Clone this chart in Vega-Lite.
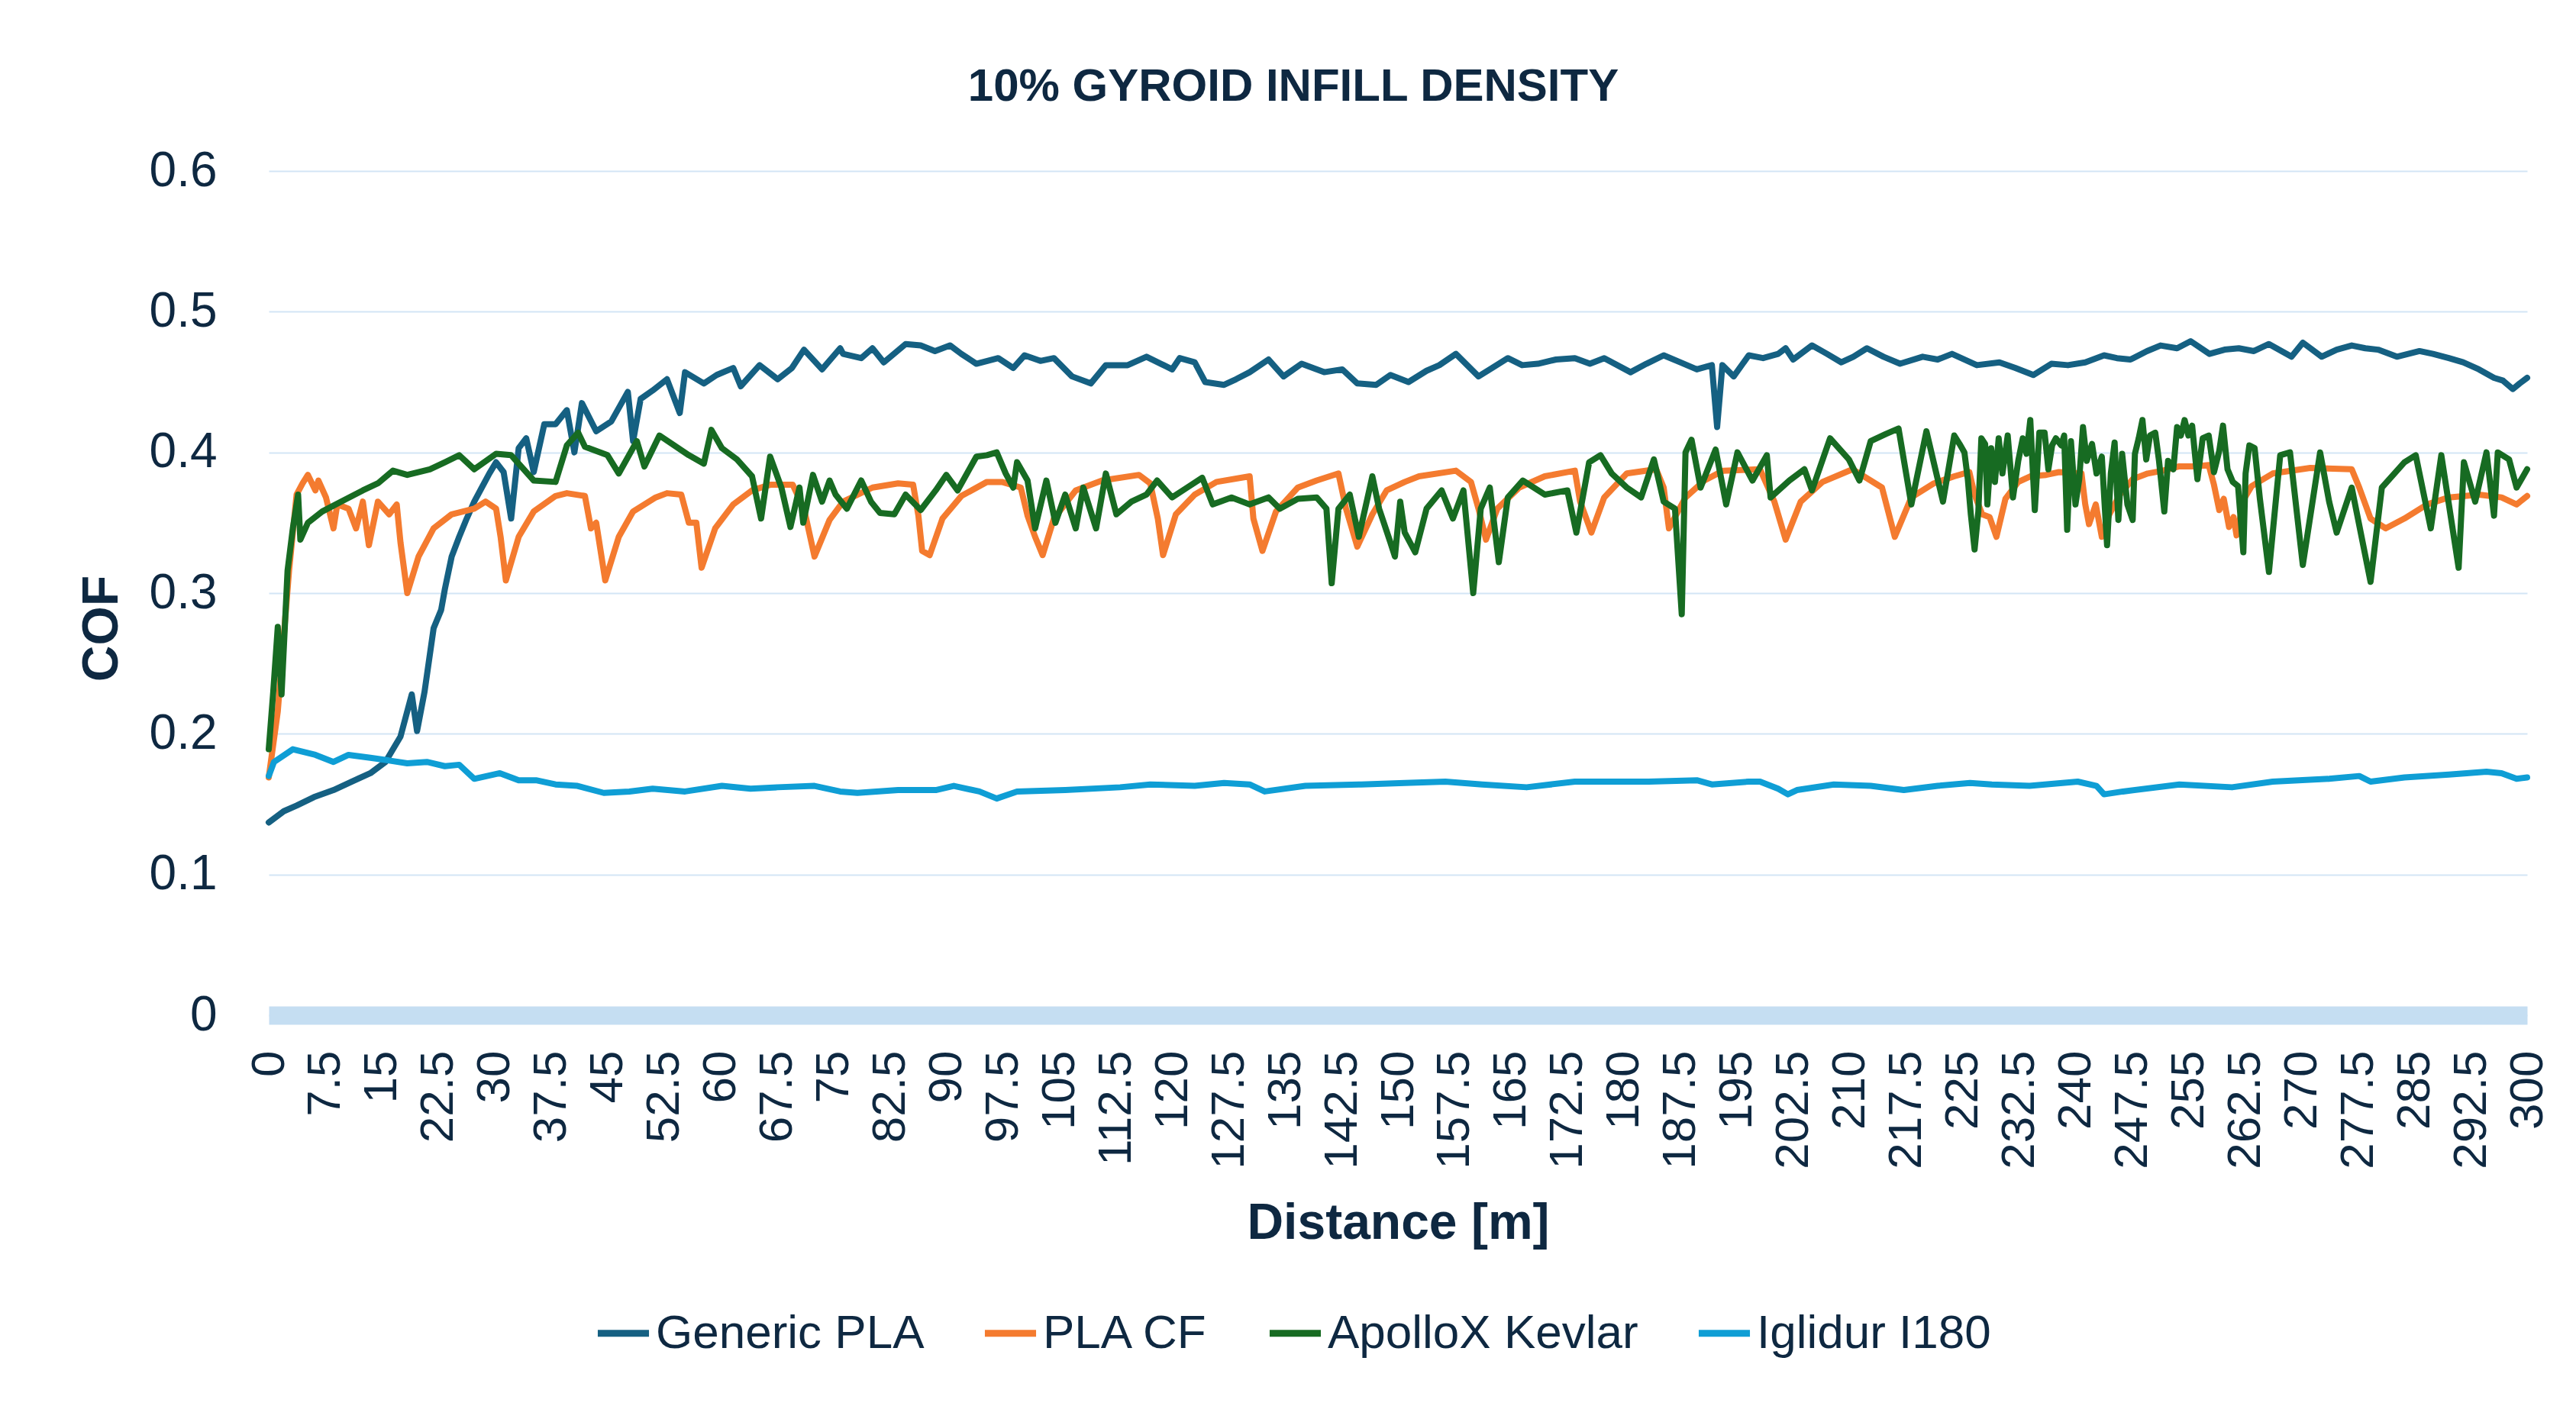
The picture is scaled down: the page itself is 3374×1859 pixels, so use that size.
{
  "$schema": "https://vega.github.io/schema/vega-lite/v6.json",
  "autosize": {"type": "none"},
  "padding": {"left": 352, "top": 224, "right": 64, "bottom": 529},
  "width": 2958,
  "height": 1106,
  "background": "white",
  "title": {
    "text": "10% GYROID INFILL DENSITY",
    "anchor": "middle",
    "frame": "group",
    "dx": -137,
    "offset": 47,
    "font": "Liberation Sans",
    "fontSize": 60,
    "fontWeight": "bold",
    "color": "#0E2841"
  },
  "data": {
    "values": [
      {"s": "Generic PLA", "d": 0, "c": 0.137}, {"s": "Generic PLA", "d": 2, "c": 0.145}, {"s": "Generic PLA", "d": 3.7, "c": 0.149}, {"s": "Generic PLA", "d": 6, "c": 0.155},
      {"s": "Generic PLA", "d": 8.6, "c": 0.16}, {"s": "Generic PLA", "d": 11, "c": 0.166}, {"s": "Generic PLA", "d": 13.5, "c": 0.172}, {"s": "Generic PLA", "d": 15.5, "c": 0.18},
      {"s": "Generic PLA", "d": 17.5, "c": 0.198}, {"s": "Generic PLA", "d": 19, "c": 0.228}, {"s": "Generic PLA", "d": 19.7, "c": 0.202}, {"s": "Generic PLA", "d": 20.7, "c": 0.23},
      {"s": "Generic PLA", "d": 21.9, "c": 0.275}, {"s": "Generic PLA", "d": 22.9, "c": 0.288}, {"s": "Generic PLA", "d": 23.4, "c": 0.303}, {"s": "Generic PLA", "d": 24.3, "c": 0.326},
      {"s": "Generic PLA", "d": 25.3, "c": 0.34}, {"s": "Generic PLA", "d": 26.3, "c": 0.353}, {"s": "Generic PLA", "d": 27.3, "c": 0.365}, {"s": "Generic PLA", "d": 28.3, "c": 0.375},
      {"s": "Generic PLA", "d": 29.3, "c": 0.385}, {"s": "Generic PLA", "d": 30.2, "c": 0.393}, {"s": "Generic PLA", "d": 31.2, "c": 0.386}, {"s": "Generic PLA", "d": 32.2, "c": 0.353},
      {"s": "Generic PLA", "d": 33.2, "c": 0.403}, {"s": "Generic PLA", "d": 34.2, "c": 0.41}, {"s": "Generic PLA", "d": 35.2, "c": 0.386}, {"s": "Generic PLA", "d": 36.6, "c": 0.42},
      {"s": "Generic PLA", "d": 38.1, "c": 0.42}, {"s": "Generic PLA", "d": 39.6, "c": 0.43}, {"s": "Generic PLA", "d": 40.6, "c": 0.4}, {"s": "Generic PLA", "d": 41.6, "c": 0.435},
      {"s": "Generic PLA", "d": 43.5, "c": 0.415}, {"s": "Generic PLA", "d": 45.5, "c": 0.422}, {"s": "Generic PLA", "d": 47.7, "c": 0.443}, {"s": "Generic PLA", "d": 48.4, "c": 0.408},
      {"s": "Generic PLA", "d": 49.4, "c": 0.438}, {"s": "Generic PLA", "d": 51, "c": 0.444}, {"s": "Generic PLA", "d": 52.9, "c": 0.452}, {"s": "Generic PLA", "d": 54.6, "c": 0.428},
      {"s": "Generic PLA", "d": 55.3, "c": 0.457}, {"s": "Generic PLA", "d": 57.8, "c": 0.449}, {"s": "Generic PLA", "d": 59.5, "c": 0.455}, {"s": "Generic PLA", "d": 61.7, "c": 0.46},
      {"s": "Generic PLA", "d": 62.7, "c": 0.447}, {"s": "Generic PLA", "d": 65.2, "c": 0.462}, {"s": "Generic PLA", "d": 67.6, "c": 0.452}, {"s": "Generic PLA", "d": 69.5, "c": 0.46},
      {"s": "Generic PLA", "d": 71.1, "c": 0.473}, {"s": "Generic PLA", "d": 73.5, "c": 0.459}, {"s": "Generic PLA", "d": 75.9, "c": 0.474}, {"s": "Generic PLA", "d": 76.3, "c": 0.47},
      {"s": "Generic PLA", "d": 78.7, "c": 0.467}, {"s": "Generic PLA", "d": 80.2, "c": 0.474}, {"s": "Generic PLA", "d": 81.7, "c": 0.464}, {"s": "Generic PLA", "d": 84.6, "c": 0.477},
      {"s": "Generic PLA", "d": 86.6, "c": 0.476}, {"s": "Generic PLA", "d": 88.5, "c": 0.472}, {"s": "Generic PLA", "d": 90.5, "c": 0.476}, {"s": "Generic PLA", "d": 92, "c": 0.47},
      {"s": "Generic PLA", "d": 94, "c": 0.463}, {"s": "Generic PLA", "d": 96.9, "c": 0.467}, {"s": "Generic PLA", "d": 98.9, "c": 0.46}, {"s": "Generic PLA", "d": 100.4, "c": 0.469},
      {"s": "Generic PLA", "d": 102.5, "c": 0.465}, {"s": "Generic PLA", "d": 104.3, "c": 0.467}, {"s": "Generic PLA", "d": 106.7, "c": 0.454}, {"s": "Generic PLA", "d": 109.2, "c": 0.449},
      {"s": "Generic PLA", "d": 111.2, "c": 0.462}, {"s": "Generic PLA", "d": 114.1, "c": 0.462}, {"s": "Generic PLA", "d": 116.6, "c": 0.468}, {"s": "Generic PLA", "d": 118.5, "c": 0.463},
      {"s": "Generic PLA", "d": 120, "c": 0.459}, {"s": "Generic PLA", "d": 121, "c": 0.467}, {"s": "Generic PLA", "d": 123, "c": 0.464}, {"s": "Generic PLA", "d": 124.4, "c": 0.45},
      {"s": "Generic PLA", "d": 126.9, "c": 0.448}, {"s": "Generic PLA", "d": 128.5, "c": 0.452}, {"s": "Generic PLA", "d": 130.3, "c": 0.457}, {"s": "Generic PLA", "d": 132.8, "c": 0.466},
      {"s": "Generic PLA", "d": 134.8, "c": 0.454}, {"s": "Generic PLA", "d": 137.2, "c": 0.463}, {"s": "Generic PLA", "d": 140.2, "c": 0.457}, {"s": "Generic PLA", "d": 142.6, "c": 0.459},
      {"s": "Generic PLA", "d": 144.6, "c": 0.449}, {"s": "Generic PLA", "d": 147.1, "c": 0.448}, {"s": "Generic PLA", "d": 149, "c": 0.455}, {"s": "Generic PLA", "d": 151.4, "c": 0.45},
      {"s": "Generic PLA", "d": 153.8, "c": 0.458}, {"s": "Generic PLA", "d": 155.5, "c": 0.462}, {"s": "Generic PLA", "d": 157.7, "c": 0.47}, {"s": "Generic PLA", "d": 160.7, "c": 0.454},
      {"s": "Generic PLA", "d": 162.5, "c": 0.46}, {"s": "Generic PLA", "d": 164.6, "c": 0.467}, {"s": "Generic PLA", "d": 166.5, "c": 0.462}, {"s": "Generic PLA", "d": 168.6, "c": 0.463},
      {"s": "Generic PLA", "d": 171, "c": 0.466}, {"s": "Generic PLA", "d": 173.5, "c": 0.467}, {"s": "Generic PLA", "d": 175.5, "c": 0.463}, {"s": "Generic PLA", "d": 177.4, "c": 0.467},
      {"s": "Generic PLA", "d": 180.9, "c": 0.457}, {"s": "Generic PLA", "d": 183, "c": 0.463}, {"s": "Generic PLA", "d": 185.3, "c": 0.469}, {"s": "Generic PLA", "d": 187.5, "c": 0.464},
      {"s": "Generic PLA", "d": 189.7, "c": 0.459}, {"s": "Generic PLA", "d": 191.7, "c": 0.462}, {"s": "Generic PLA", "d": 192.4, "c": 0.418}, {"s": "Generic PLA", "d": 193.1, "c": 0.462},
      {"s": "Generic PLA", "d": 194.6, "c": 0.454}, {"s": "Generic PLA", "d": 196.6, "c": 0.469}, {"s": "Generic PLA", "d": 198.5, "c": 0.467}, {"s": "Generic PLA", "d": 200.5, "c": 0.47},
      {"s": "Generic PLA", "d": 201.5, "c": 0.474}, {"s": "Generic PLA", "d": 202.5, "c": 0.466}, {"s": "Generic PLA", "d": 205, "c": 0.476}, {"s": "Generic PLA", "d": 207, "c": 0.47},
      {"s": "Generic PLA", "d": 208.9, "c": 0.464}, {"s": "Generic PLA", "d": 210.5, "c": 0.468}, {"s": "Generic PLA", "d": 212.3, "c": 0.474}, {"s": "Generic PLA", "d": 214.5, "c": 0.468},
      {"s": "Generic PLA", "d": 216.7, "c": 0.463}, {"s": "Generic PLA", "d": 219.7, "c": 0.468}, {"s": "Generic PLA", "d": 221.7, "c": 0.466}, {"s": "Generic PLA", "d": 223.6, "c": 0.47},
      {"s": "Generic PLA", "d": 226.9, "c": 0.462}, {"s": "Generic PLA", "d": 229.9, "c": 0.464}, {"s": "Generic PLA", "d": 232, "c": 0.46}, {"s": "Generic PLA", "d": 234.4, "c": 0.455},
      {"s": "Generic PLA", "d": 236.8, "c": 0.463}, {"s": "Generic PLA", "d": 239, "c": 0.462}, {"s": "Generic PLA", "d": 241.3, "c": 0.464}, {"s": "Generic PLA", "d": 243.8, "c": 0.469},
      {"s": "Generic PLA", "d": 245.5, "c": 0.467}, {"s": "Generic PLA", "d": 247.3, "c": 0.466}, {"s": "Generic PLA", "d": 249.5, "c": 0.472}, {"s": "Generic PLA", "d": 251.3, "c": 0.476},
      {"s": "Generic PLA", "d": 253.5, "c": 0.474}, {"s": "Generic PLA", "d": 255.3, "c": 0.479}, {"s": "Generic PLA", "d": 257.8, "c": 0.47}, {"s": "Generic PLA", "d": 259.8, "c": 0.473},
      {"s": "Generic PLA", "d": 261.7, "c": 0.474}, {"s": "Generic PLA", "d": 263.7, "c": 0.472}, {"s": "Generic PLA", "d": 265.7, "c": 0.477}, {"s": "Generic PLA", "d": 268.7, "c": 0.468},
      {"s": "Generic PLA", "d": 270.2, "c": 0.478}, {"s": "Generic PLA", "d": 272.7, "c": 0.468}, {"s": "Generic PLA", "d": 274.7, "c": 0.473}, {"s": "Generic PLA", "d": 276.7, "c": 0.476},
      {"s": "Generic PLA", "d": 278.5, "c": 0.474}, {"s": "Generic PLA", "d": 280.2, "c": 0.473}, {"s": "Generic PLA", "d": 282.7, "c": 0.468}, {"s": "Generic PLA", "d": 285.7, "c": 0.472},
      {"s": "Generic PLA", "d": 287.5, "c": 0.47}, {"s": "Generic PLA", "d": 289.6, "c": 0.467}, {"s": "Generic PLA", "d": 291.5, "c": 0.464}, {"s": "Generic PLA", "d": 293.6, "c": 0.459},
      {"s": "Generic PLA", "d": 295.6, "c": 0.453}, {"s": "Generic PLA", "d": 296.8, "c": 0.451}, {"s": "Generic PLA", "d": 298.1, "c": 0.445}, {"s": "Generic PLA", "d": 299, "c": 0.449},
      {"s": "Generic PLA", "d": 300, "c": 0.453},

      {"s": "PLA CF", "d": 0, "c": 0.169}, {"s": "PLA CF", "d": 1.2, "c": 0.216}, {"s": "PLA CF", "d": 2.7, "c": 0.316}, {"s": "PLA CF", "d": 3.7, "c": 0.37},
      {"s": "PLA CF", "d": 4.5, "c": 0.378}, {"s": "PLA CF", "d": 5.2, "c": 0.384}, {"s": "PLA CF", "d": 6.2, "c": 0.373}, {"s": "PLA CF", "d": 6.6, "c": 0.38},
      {"s": "PLA CF", "d": 7.6, "c": 0.368}, {"s": "PLA CF", "d": 8.6, "c": 0.346}, {"s": "PLA CF", "d": 9.1, "c": 0.363}, {"s": "PLA CF", "d": 10.6, "c": 0.36},
      {"s": "PLA CF", "d": 11.6, "c": 0.346}, {"s": "PLA CF", "d": 12.5, "c": 0.365}, {"s": "PLA CF", "d": 13.3, "c": 0.334}, {"s": "PLA CF", "d": 14.5, "c": 0.365},
      {"s": "PLA CF", "d": 16, "c": 0.356}, {"s": "PLA CF", "d": 17, "c": 0.363}, {"s": "PLA CF", "d": 17.5, "c": 0.336}, {"s": "PLA CF", "d": 18.4, "c": 0.3},
      {"s": "PLA CF", "d": 19.9, "c": 0.326}, {"s": "PLA CF", "d": 21.9, "c": 0.346}, {"s": "PLA CF", "d": 24.3, "c": 0.356}, {"s": "PLA CF", "d": 27.3, "c": 0.36},
      {"s": "PLA CF", "d": 28.8, "c": 0.365}, {"s": "PLA CF", "d": 30.2, "c": 0.36}, {"s": "PLA CF", "d": 30.8, "c": 0.34}, {"s": "PLA CF", "d": 31.5, "c": 0.309},
      {"s": "PLA CF", "d": 33.2, "c": 0.34}, {"s": "PLA CF", "d": 35.2, "c": 0.358}, {"s": "PLA CF", "d": 38.1, "c": 0.369}, {"s": "PLA CF", "d": 39.6, "c": 0.371},
      {"s": "PLA CF", "d": 42, "c": 0.369}, {"s": "PLA CF", "d": 42.8, "c": 0.346}, {"s": "PLA CF", "d": 43.5, "c": 0.35}, {"s": "PLA CF", "d": 44.7, "c": 0.309},
      {"s": "PLA CF", "d": 46.5, "c": 0.34}, {"s": "PLA CF", "d": 48.4, "c": 0.358}, {"s": "PLA CF", "d": 51.4, "c": 0.368}, {"s": "PLA CF", "d": 52.9, "c": 0.371},
      {"s": "PLA CF", "d": 54.8, "c": 0.37}, {"s": "PLA CF", "d": 55.8, "c": 0.35}, {"s": "PLA CF", "d": 56.8, "c": 0.35}, {"s": "PLA CF", "d": 57.5, "c": 0.318},
      {"s": "PLA CF", "d": 59.3, "c": 0.346}, {"s": "PLA CF", "d": 61.7, "c": 0.363}, {"s": "PLA CF", "d": 64.2, "c": 0.373}, {"s": "PLA CF", "d": 66.6, "c": 0.377},
      {"s": "PLA CF", "d": 69.6, "c": 0.377}, {"s": "PLA CF", "d": 71.1, "c": 0.36}, {"s": "PLA CF", "d": 72.5, "c": 0.326}, {"s": "PLA CF", "d": 74.5, "c": 0.352},
      {"s": "PLA CF", "d": 76.3, "c": 0.365}, {"s": "PLA CF", "d": 80.2, "c": 0.375}, {"s": "PLA CF", "d": 83.6, "c": 0.378}, {"s": "PLA CF", "d": 85.6, "c": 0.377},
      {"s": "PLA CF", "d": 86.3, "c": 0.355}, {"s": "PLA CF", "d": 86.8, "c": 0.33}, {"s": "PLA CF", "d": 87.8, "c": 0.327}, {"s": "PLA CF", "d": 89.5, "c": 0.353},
      {"s": "PLA CF", "d": 92, "c": 0.369}, {"s": "PLA CF", "d": 95.4, "c": 0.379}, {"s": "PLA CF", "d": 97.4, "c": 0.379}, {"s": "PLA CF", "d": 99.9, "c": 0.375},
      {"s": "PLA CF", "d": 100.8, "c": 0.355}, {"s": "PLA CF", "d": 101.8, "c": 0.34}, {"s": "PLA CF", "d": 102.8, "c": 0.327}, {"s": "PLA CF", "d": 104.3, "c": 0.353},
      {"s": "PLA CF", "d": 107.2, "c": 0.373}, {"s": "PLA CF", "d": 110.7, "c": 0.38}, {"s": "PLA CF", "d": 115.6, "c": 0.384}, {"s": "PLA CF", "d": 117.1, "c": 0.378},
      {"s": "PLA CF", "d": 118.1, "c": 0.353}, {"s": "PLA CF", "d": 118.8, "c": 0.327}, {"s": "PLA CF", "d": 120.5, "c": 0.356}, {"s": "PLA CF", "d": 123, "c": 0.37},
      {"s": "PLA CF", "d": 125.9, "c": 0.379}, {"s": "PLA CF", "d": 130.3, "c": 0.383}, {"s": "PLA CF", "d": 130.8, "c": 0.353}, {"s": "PLA CF", "d": 132, "c": 0.33},
      {"s": "PLA CF", "d": 133.8, "c": 0.358}, {"s": "PLA CF", "d": 136.7, "c": 0.375}, {"s": "PLA CF", "d": 139.2, "c": 0.38}, {"s": "PLA CF", "d": 142.1, "c": 0.385},
      {"s": "PLA CF", "d": 143.1, "c": 0.36}, {"s": "PLA CF", "d": 144.6, "c": 0.333}, {"s": "PLA CF", "d": 146.6, "c": 0.356}, {"s": "PLA CF", "d": 148.5, "c": 0.373},
      {"s": "PLA CF", "d": 150.9, "c": 0.379}, {"s": "PLA CF", "d": 152.8, "c": 0.383}, {"s": "PLA CF", "d": 157.7, "c": 0.387}, {"s": "PLA CF", "d": 159.7, "c": 0.379},
      {"s": "PLA CF", "d": 160.7, "c": 0.36}, {"s": "PLA CF", "d": 161.7, "c": 0.338}, {"s": "PLA CF", "d": 163.2, "c": 0.36}, {"s": "PLA CF", "d": 166.1, "c": 0.375},
      {"s": "PLA CF", "d": 169.5, "c": 0.383}, {"s": "PLA CF", "d": 173.5, "c": 0.387}, {"s": "PLA CF", "d": 174.2, "c": 0.365}, {"s": "PLA CF", "d": 175.7, "c": 0.343},
      {"s": "PLA CF", "d": 177.4, "c": 0.368}, {"s": "PLA CF", "d": 180.4, "c": 0.385}, {"s": "PLA CF", "d": 184.3, "c": 0.388}, {"s": "PLA CF", "d": 185.3, "c": 0.375},
      {"s": "PLA CF", "d": 186, "c": 0.346}, {"s": "PLA CF", "d": 188.2, "c": 0.368}, {"s": "PLA CF", "d": 190.7, "c": 0.38}, {"s": "PLA CF", "d": 193.2, "c": 0.387},
      {"s": "PLA CF", "d": 198.1, "c": 0.388}, {"s": "PLA CF", "d": 200, "c": 0.365}, {"s": "PLA CF", "d": 201.5, "c": 0.338}, {"s": "PLA CF", "d": 203.5, "c": 0.365},
      {"s": "PLA CF", "d": 206.4, "c": 0.379}, {"s": "PLA CF", "d": 210.4, "c": 0.388}, {"s": "PLA CF", "d": 214.3, "c": 0.375}, {"s": "PLA CF", "d": 216, "c": 0.34},
      {"s": "PLA CF", "d": 218.2, "c": 0.368}, {"s": "PLA CF", "d": 221.2, "c": 0.378}, {"s": "PLA CF", "d": 223.9, "c": 0.383}, {"s": "PLA CF", "d": 225.9, "c": 0.386},
      {"s": "PLA CF", "d": 226.6, "c": 0.37}, {"s": "PLA CF", "d": 227.6, "c": 0.356}, {"s": "PLA CF", "d": 228.6, "c": 0.354}, {"s": "PLA CF", "d": 229.5, "c": 0.34},
      {"s": "PLA CF", "d": 230.7, "c": 0.367}, {"s": "PLA CF", "d": 232.4, "c": 0.379}, {"s": "PLA CF", "d": 234, "c": 0.383}, {"s": "PLA CF", "d": 236.1, "c": 0.384},
      {"s": "PLA CF", "d": 237.8, "c": 0.386}, {"s": "PLA CF", "d": 240.8, "c": 0.385}, {"s": "PLA CF", "d": 241.3, "c": 0.363}, {"s": "PLA CF", "d": 241.8, "c": 0.349},
      {"s": "PLA CF", "d": 242.7, "c": 0.363}, {"s": "PLA CF", "d": 243.5, "c": 0.34}, {"s": "PLA CF", "d": 244.5, "c": 0.356}, {"s": "PLA CF", "d": 245.9, "c": 0.37},
      {"s": "PLA CF", "d": 247.6, "c": 0.381}, {"s": "PLA CF", "d": 249.6, "c": 0.385}, {"s": "PLA CF", "d": 251.6, "c": 0.387}, {"s": "PLA CF", "d": 253.7, "c": 0.39},
      {"s": "PLA CF", "d": 256, "c": 0.39}, {"s": "PLA CF", "d": 257.7, "c": 0.391}, {"s": "PLA CF", "d": 258.4, "c": 0.377}, {"s": "PLA CF", "d": 259.1, "c": 0.359},
      {"s": "PLA CF", "d": 259.7, "c": 0.367}, {"s": "PLA CF", "d": 260.4, "c": 0.347}, {"s": "PLA CF", "d": 261, "c": 0.354}, {"s": "PLA CF", "d": 261.4, "c": 0.341},
      {"s": "PLA CF", "d": 262.4, "c": 0.367}, {"s": "PLA CF", "d": 263.4, "c": 0.376}, {"s": "PLA CF", "d": 266.2, "c": 0.385},
      {"s": "PLA CF", "d": 271.2, "c": 0.389}, {"s": "PLA CF", "d": 276.7, "c": 0.388}, {"s": "PLA CF", "d": 277.7, "c": 0.375}, {"s": "PLA CF", "d": 279.2, "c": 0.353},
      {"s": "PLA CF", "d": 281.2, "c": 0.346}, {"s": "PLA CF", "d": 283.7, "c": 0.353}, {"s": "PLA CF", "d": 286.7, "c": 0.363}, {"s": "PLA CF", "d": 289.6, "c": 0.368},
      {"s": "PLA CF", "d": 293.6, "c": 0.37}, {"s": "PLA CF", "d": 296.6, "c": 0.368}, {"s": "PLA CF", "d": 298.6, "c": 0.363}, {"s": "PLA CF", "d": 300, "c": 0.369},

      {"s": "ApolloX Kevlar", "d": 0, "c": 0.189}, {"s": "ApolloX Kevlar", "d": 0.6, "c": 0.23}, {"s": "ApolloX Kevlar", "d": 1.2, "c": 0.276}, {"s": "ApolloX Kevlar", "d": 1.7, "c": 0.228},
      {"s": "ApolloX Kevlar", "d": 2.5, "c": 0.316}, {"s": "ApolloX Kevlar", "d": 3.2, "c": 0.346}, {"s": "ApolloX Kevlar", "d": 3.9, "c": 0.37}, {"s": "ApolloX Kevlar", "d": 4.2, "c": 0.338},
      {"s": "ApolloX Kevlar", "d": 5.2, "c": 0.35}, {"s": "ApolloX Kevlar", "d": 7.1, "c": 0.358}, {"s": "ApolloX Kevlar", "d": 9.6, "c": 0.365}, {"s": "ApolloX Kevlar", "d": 12.5, "c": 0.373},
      {"s": "ApolloX Kevlar", "d": 14.5, "c": 0.378}, {"s": "ApolloX Kevlar", "d": 16.5, "c": 0.387}, {"s": "ApolloX Kevlar", "d": 18.4, "c": 0.384}, {"s": "ApolloX Kevlar", "d": 21.4, "c": 0.388},
      {"s": "ApolloX Kevlar", "d": 23.4, "c": 0.393}, {"s": "ApolloX Kevlar", "d": 25.3, "c": 0.398}, {"s": "ApolloX Kevlar", "d": 27.3, "c": 0.388}, {"s": "ApolloX Kevlar", "d": 30.2, "c": 0.399},
      {"s": "ApolloX Kevlar", "d": 32.2, "c": 0.398}, {"s": "ApolloX Kevlar", "d": 35.2, "c": 0.38}, {"s": "ApolloX Kevlar", "d": 38.1, "c": 0.379}, {"s": "ApolloX Kevlar", "d": 39.6, "c": 0.405},
      {"s": "ApolloX Kevlar", "d": 41.1, "c": 0.414}, {"s": "ApolloX Kevlar", "d": 42, "c": 0.404}, {"s": "ApolloX Kevlar", "d": 45, "c": 0.398}, {"s": "ApolloX Kevlar", "d": 46.5, "c": 0.385},
      {"s": "ApolloX Kevlar", "d": 48.9, "c": 0.408}, {"s": "ApolloX Kevlar", "d": 49.9, "c": 0.39}, {"s": "ApolloX Kevlar", "d": 51.9, "c": 0.412}, {"s": "ApolloX Kevlar", "d": 55.8, "c": 0.398},
      {"s": "ApolloX Kevlar", "d": 57.8, "c": 0.392}, {"s": "ApolloX Kevlar", "d": 58.8, "c": 0.416}, {"s": "ApolloX Kevlar", "d": 60.2, "c": 0.403}, {"s": "ApolloX Kevlar", "d": 62.2, "c": 0.395},
      {"s": "ApolloX Kevlar", "d": 64.2, "c": 0.383}, {"s": "ApolloX Kevlar", "d": 65.4, "c": 0.353}, {"s": "ApolloX Kevlar", "d": 66.6, "c": 0.397}, {"s": "ApolloX Kevlar", "d": 68.1, "c": 0.375},
      {"s": "ApolloX Kevlar", "d": 69.3, "c": 0.347}, {"s": "ApolloX Kevlar", "d": 70.5, "c": 0.375}, {"s": "ApolloX Kevlar", "d": 71, "c": 0.35}, {"s": "ApolloX Kevlar", "d": 72.3, "c": 0.384},
      {"s": "ApolloX Kevlar", "d": 73.5, "c": 0.365}, {"s": "ApolloX Kevlar", "d": 74.5, "c": 0.38}, {"s": "ApolloX Kevlar", "d": 75.3, "c": 0.37}, {"s": "ApolloX Kevlar", "d": 76.8, "c": 0.36},
      {"s": "ApolloX Kevlar", "d": 78.7, "c": 0.38}, {"s": "ApolloX Kevlar", "d": 80, "c": 0.365}, {"s": "ApolloX Kevlar", "d": 81.2, "c": 0.357}, {"s": "ApolloX Kevlar", "d": 83.1, "c": 0.356},
      {"s": "ApolloX Kevlar", "d": 84.6, "c": 0.37}, {"s": "ApolloX Kevlar", "d": 86.6, "c": 0.359}, {"s": "ApolloX Kevlar", "d": 88.6, "c": 0.373}, {"s": "ApolloX Kevlar", "d": 90, "c": 0.384},
      {"s": "ApolloX Kevlar", "d": 91.5, "c": 0.373}, {"s": "ApolloX Kevlar", "d": 94, "c": 0.397}, {"s": "ApolloX Kevlar", "d": 95.4, "c": 0.398}, {"s": "ApolloX Kevlar", "d": 96.7, "c": 0.4},
      {"s": "ApolloX Kevlar", "d": 97.9, "c": 0.385}, {"s": "ApolloX Kevlar", "d": 98.9, "c": 0.375}, {"s": "ApolloX Kevlar", "d": 99.4, "c": 0.393}, {"s": "ApolloX Kevlar", "d": 100.8, "c": 0.38},
      {"s": "ApolloX Kevlar", "d": 101.8, "c": 0.346}, {"s": "ApolloX Kevlar", "d": 103.3, "c": 0.38}, {"s": "ApolloX Kevlar", "d": 104.5, "c": 0.35}, {"s": "ApolloX Kevlar", "d": 105.8, "c": 0.37},
      {"s": "ApolloX Kevlar", "d": 107.2, "c": 0.346}, {"s": "ApolloX Kevlar", "d": 108.2, "c": 0.375}, {"s": "ApolloX Kevlar", "d": 109.9, "c": 0.346}, {"s": "ApolloX Kevlar", "d": 111.2, "c": 0.385},
      {"s": "ApolloX Kevlar", "d": 112.6, "c": 0.356}, {"s": "ApolloX Kevlar", "d": 114.6, "c": 0.365}, {"s": "ApolloX Kevlar", "d": 116.6, "c": 0.37}, {"s": "ApolloX Kevlar", "d": 118, "c": 0.38},
      {"s": "ApolloX Kevlar", "d": 120, "c": 0.368}, {"s": "ApolloX Kevlar", "d": 122, "c": 0.375}, {"s": "ApolloX Kevlar", "d": 124, "c": 0.382}, {"s": "ApolloX Kevlar", "d": 125.4, "c": 0.363},
      {"s": "ApolloX Kevlar", "d": 127.9, "c": 0.368}, {"s": "ApolloX Kevlar", "d": 130.3, "c": 0.363}, {"s": "ApolloX Kevlar", "d": 132.8, "c": 0.368}, {"s": "ApolloX Kevlar", "d": 134.3, "c": 0.36},
      {"s": "ApolloX Kevlar", "d": 136.7, "c": 0.367}, {"s": "ApolloX Kevlar", "d": 139.2, "c": 0.368}, {"s": "ApolloX Kevlar", "d": 140.5, "c": 0.36}, {"s": "ApolloX Kevlar", "d": 141.2, "c": 0.307},
      {"s": "ApolloX Kevlar", "d": 142.1, "c": 0.36}, {"s": "ApolloX Kevlar", "d": 143.6, "c": 0.37}, {"s": "ApolloX Kevlar", "d": 144.8, "c": 0.34}, {"s": "ApolloX Kevlar", "d": 146.6, "c": 0.383},
      {"s": "ApolloX Kevlar", "d": 147.5, "c": 0.36}, {"s": "ApolloX Kevlar", "d": 149, "c": 0.336}, {"s": "ApolloX Kevlar", "d": 149.6, "c": 0.326}, {"s": "ApolloX Kevlar", "d": 150.3, "c": 0.365},
      {"s": "ApolloX Kevlar", "d": 150.9, "c": 0.343}, {"s": "ApolloX Kevlar", "d": 152.3, "c": 0.329}, {"s": "ApolloX Kevlar", "d": 153.8, "c": 0.36}, {"s": "ApolloX Kevlar", "d": 155.8, "c": 0.373},
      {"s": "ApolloX Kevlar", "d": 157.3, "c": 0.353}, {"s": "ApolloX Kevlar", "d": 158.7, "c": 0.373}, {"s": "ApolloX Kevlar", "d": 160, "c": 0.3}, {"s": "ApolloX Kevlar", "d": 161, "c": 0.36},
      {"s": "ApolloX Kevlar", "d": 162.2, "c": 0.375}, {"s": "ApolloX Kevlar", "d": 163.4, "c": 0.322}, {"s": "ApolloX Kevlar", "d": 164.6, "c": 0.368}, {"s": "ApolloX Kevlar", "d": 166.6, "c": 0.38},
      {"s": "ApolloX Kevlar", "d": 169.5, "c": 0.37}, {"s": "ApolloX Kevlar", "d": 172.5, "c": 0.373}, {"s": "ApolloX Kevlar", "d": 173.7, "c": 0.343}, {"s": "ApolloX Kevlar", "d": 175.4, "c": 0.393},
      {"s": "ApolloX Kevlar", "d": 176.9, "c": 0.398}, {"s": "ApolloX Kevlar", "d": 178.4, "c": 0.385}, {"s": "ApolloX Kevlar", "d": 180.4, "c": 0.375}, {"s": "ApolloX Kevlar", "d": 182.3, "c": 0.368},
      {"s": "ApolloX Kevlar", "d": 184, "c": 0.395}, {"s": "ApolloX Kevlar", "d": 185.3, "c": 0.365}, {"s": "ApolloX Kevlar", "d": 186.8, "c": 0.36}, {"s": "ApolloX Kevlar", "d": 187.7, "c": 0.285},
      {"s": "ApolloX Kevlar", "d": 188.2, "c": 0.4}, {"s": "ApolloX Kevlar", "d": 189, "c": 0.409}, {"s": "ApolloX Kevlar", "d": 190.2, "c": 0.375}, {"s": "ApolloX Kevlar", "d": 192.2, "c": 0.402},
      {"s": "ApolloX Kevlar", "d": 193.6, "c": 0.363}, {"s": "ApolloX Kevlar", "d": 195.1, "c": 0.4}, {"s": "ApolloX Kevlar", "d": 197.1, "c": 0.38}, {"s": "ApolloX Kevlar", "d": 199, "c": 0.398},
      {"s": "ApolloX Kevlar", "d": 199.5, "c": 0.368}, {"s": "ApolloX Kevlar", "d": 202, "c": 0.38}, {"s": "ApolloX Kevlar", "d": 204, "c": 0.388}, {"s": "ApolloX Kevlar", "d": 205, "c": 0.373},
      {"s": "ApolloX Kevlar", "d": 207.4, "c": 0.41}, {"s": "ApolloX Kevlar", "d": 209.9, "c": 0.395}, {"s": "ApolloX Kevlar", "d": 211.3, "c": 0.38}, {"s": "ApolloX Kevlar", "d": 212.8, "c": 0.408},
      {"s": "ApolloX Kevlar", "d": 214.8, "c": 0.413}, {"s": "ApolloX Kevlar", "d": 216.5, "c": 0.417}, {"s": "ApolloX Kevlar", "d": 218.2, "c": 0.363}, {"s": "ApolloX Kevlar", "d": 220.2, "c": 0.415},
      {"s": "ApolloX Kevlar", "d": 222.4, "c": 0.365}, {"s": "ApolloX Kevlar", "d": 223.9, "c": 0.412}, {"s": "ApolloX Kevlar", "d": 224.6, "c": 0.406}, {"s": "ApolloX Kevlar", "d": 225.25, "c": 0.4},
      {"s": "ApolloX Kevlar", "d": 225.7, "c": 0.381}, {"s": "ApolloX Kevlar", "d": 226.1, "c": 0.356}, {"s": "ApolloX Kevlar", "d": 226.6, "c": 0.331}, {"s": "ApolloX Kevlar", "d": 227.1, "c": 0.358},
      {"s": "ApolloX Kevlar", "d": 227.5, "c": 0.41}, {"s": "ApolloX Kevlar", "d": 228, "c": 0.406}, {"s": "ApolloX Kevlar", "d": 228.3, "c": 0.363}, {"s": "ApolloX Kevlar", "d": 228.8, "c": 0.403},
      {"s": "ApolloX Kevlar", "d": 229.3, "c": 0.379}, {"s": "ApolloX Kevlar", "d": 229.8, "c": 0.41}, {"s": "ApolloX Kevlar", "d": 230.3, "c": 0.385}, {"s": "ApolloX Kevlar", "d": 231, "c": 0.412},
      {"s": "ApolloX Kevlar", "d": 231.7, "c": 0.368}, {"s": "ApolloX Kevlar", "d": 232.4, "c": 0.394}, {"s": "ApolloX Kevlar", "d": 233, "c": 0.41}, {"s": "ApolloX Kevlar", "d": 233.5, "c": 0.399},
      {"s": "ApolloX Kevlar", "d": 234, "c": 0.423}, {"s": "ApolloX Kevlar", "d": 234.6, "c": 0.359}, {"s": "ApolloX Kevlar", "d": 235.2, "c": 0.414}, {"s": "ApolloX Kevlar", "d": 235.9, "c": 0.414},
      {"s": "ApolloX Kevlar", "d": 236.4, "c": 0.388}, {"s": "ApolloX Kevlar", "d": 236.9, "c": 0.405}, {"s": "ApolloX Kevlar", "d": 237.4, "c": 0.41}, {"s": "ApolloX Kevlar", "d": 238.1, "c": 0.405},
      {"s": "ApolloX Kevlar", "d": 238.5, "c": 0.412}, {"s": "ApolloX Kevlar", "d": 238.9, "c": 0.345}, {"s": "ApolloX Kevlar", "d": 239.4, "c": 0.408}, {"s": "ApolloX Kevlar", "d": 240, "c": 0.363},
      {"s": "ApolloX Kevlar", "d": 240.5, "c": 0.381}, {"s": "ApolloX Kevlar", "d": 241, "c": 0.418}, {"s": "ApolloX Kevlar", "d": 241.5, "c": 0.394}, {"s": "ApolloX Kevlar", "d": 242.2, "c": 0.406},
      {"s": "ApolloX Kevlar", "d": 242.8, "c": 0.385}, {"s": "ApolloX Kevlar", "d": 243.5, "c": 0.397}, {"s": "ApolloX Kevlar", "d": 244.2, "c": 0.334}, {"s": "ApolloX Kevlar", "d": 244.7, "c": 0.385},
      {"s": "ApolloX Kevlar", "d": 245.2, "c": 0.407}, {"s": "ApolloX Kevlar", "d": 245.7, "c": 0.352}, {"s": "ApolloX Kevlar", "d": 246.2, "c": 0.399}, {"s": "ApolloX Kevlar", "d": 246.9, "c": 0.363},
      {"s": "ApolloX Kevlar", "d": 247.6, "c": 0.352}, {"s": "ApolloX Kevlar", "d": 247.9, "c": 0.399}, {"s": "ApolloX Kevlar", "d": 248.4, "c": 0.41}, {"s": "ApolloX Kevlar", "d": 248.9, "c": 0.423},
      {"s": "ApolloX Kevlar", "d": 249.4, "c": 0.395}, {"s": "ApolloX Kevlar", "d": 249.9, "c": 0.412}, {"s": "ApolloX Kevlar", "d": 250.6, "c": 0.414}, {"s": "ApolloX Kevlar", "d": 251.1, "c": 0.394},
      {"s": "ApolloX Kevlar", "d": 251.8, "c": 0.358}, {"s": "ApolloX Kevlar", "d": 252.3, "c": 0.394}, {"s": "ApolloX Kevlar", "d": 253, "c": 0.388}, {"s": "ApolloX Kevlar", "d": 253.5, "c": 0.418},
      {"s": "ApolloX Kevlar", "d": 254, "c": 0.412}, {"s": "ApolloX Kevlar", "d": 254.5, "c": 0.423}, {"s": "ApolloX Kevlar", "d": 255, "c": 0.412}, {"s": "ApolloX Kevlar", "d": 255.5, "c": 0.419},
      {"s": "ApolloX Kevlar", "d": 256.2, "c": 0.381}, {"s": "ApolloX Kevlar", "d": 256.9, "c": 0.41}, {"s": "ApolloX Kevlar", "d": 257.7, "c": 0.412}, {"s": "ApolloX Kevlar", "d": 258.4, "c": 0.386},
      {"s": "ApolloX Kevlar", "d": 259.1, "c": 0.401}, {"s": "ApolloX Kevlar", "d": 259.6, "c": 0.419}, {"s": "ApolloX Kevlar", "d": 260.2, "c": 0.388}, {"s": "ApolloX Kevlar", "d": 260.9, "c": 0.379},
      {"s": "ApolloX Kevlar", "d": 261.6, "c": 0.376}, {"s": "ApolloX Kevlar", "d": 262.3, "c": 0.329}, {"s": "ApolloX Kevlar", "d": 262.6, "c": 0.385}, {"s": "ApolloX Kevlar", "d": 263.1, "c": 0.405},
      {"s": "ApolloX Kevlar", "d": 263.8, "c": 0.403}, {"s": "ApolloX Kevlar", "d": 264.5, "c": 0.367}, {"s": "ApolloX Kevlar", "d": 265.7, "c": 0.315},
      {"s": "ApolloX Kevlar", "d": 267.2, "c": 0.398}, {"s": "ApolloX Kevlar", "d": 268.5, "c": 0.4}, {"s": "ApolloX Kevlar", "d": 270.2, "c": 0.32}, {"s": "ApolloX Kevlar", "d": 272.5, "c": 0.4},
      {"s": "ApolloX Kevlar", "d": 273.7, "c": 0.365}, {"s": "ApolloX Kevlar", "d": 274.7, "c": 0.343}, {"s": "ApolloX Kevlar", "d": 276.7, "c": 0.375}, {"s": "ApolloX Kevlar", "d": 279.2, "c": 0.308},
      {"s": "ApolloX Kevlar", "d": 280.7, "c": 0.375}, {"s": "ApolloX Kevlar", "d": 283.7, "c": 0.393}, {"s": "ApolloX Kevlar", "d": 285.2, "c": 0.398}, {"s": "ApolloX Kevlar", "d": 287.2, "c": 0.346},
      {"s": "ApolloX Kevlar", "d": 288.6, "c": 0.398}, {"s": "ApolloX Kevlar", "d": 290.9, "c": 0.318}, {"s": "ApolloX Kevlar", "d": 291.6, "c": 0.393}, {"s": "ApolloX Kevlar", "d": 293.1, "c": 0.365},
      {"s": "ApolloX Kevlar", "d": 294.6, "c": 0.4}, {"s": "ApolloX Kevlar", "d": 295.6, "c": 0.355}, {"s": "ApolloX Kevlar", "d": 296.1, "c": 0.4}, {"s": "ApolloX Kevlar", "d": 297.6, "c": 0.395},
      {"s": "ApolloX Kevlar", "d": 298.6, "c": 0.375}, {"s": "ApolloX Kevlar", "d": 300, "c": 0.388},

      {"s": "Iglidur I180", "d": 0, "c": 0.17}, {"s": "Iglidur I180", "d": 0.7, "c": 0.18}, {"s": "Iglidur I180", "d": 3.2, "c": 0.189}, {"s": "Iglidur I180", "d": 6.2, "c": 0.185},
      {"s": "Iglidur I180", "d": 8.6, "c": 0.18}, {"s": "Iglidur I180", "d": 10.6, "c": 0.185}, {"s": "Iglidur I180", "d": 13.5, "c": 0.183}, {"s": "Iglidur I180", "d": 16, "c": 0.181},
      {"s": "Iglidur I180", "d": 18.4, "c": 0.179}, {"s": "Iglidur I180", "d": 21, "c": 0.18}, {"s": "Iglidur I180", "d": 23.4, "c": 0.177}, {"s": "Iglidur I180", "d": 25.3, "c": 0.178},
      {"s": "Iglidur I180", "d": 27.3, "c": 0.168}, {"s": "Iglidur I180", "d": 30.7, "c": 0.172}, {"s": "Iglidur I180", "d": 33.2, "c": 0.167}, {"s": "Iglidur I180", "d": 35.5, "c": 0.167},
      {"s": "Iglidur I180", "d": 38.1, "c": 0.164}, {"s": "Iglidur I180", "d": 41, "c": 0.163}, {"s": "Iglidur I180", "d": 44.5, "c": 0.158}, {"s": "Iglidur I180", "d": 47.9, "c": 0.159},
      {"s": "Iglidur I180", "d": 51, "c": 0.161}, {"s": "Iglidur I180", "d": 55.3, "c": 0.159}, {"s": "Iglidur I180", "d": 60.2, "c": 0.163}, {"s": "Iglidur I180", "d": 64, "c": 0.161},
      {"s": "Iglidur I180", "d": 67.6, "c": 0.162}, {"s": "Iglidur I180", "d": 72.5, "c": 0.163}, {"s": "Iglidur I180", "d": 75.9, "c": 0.159}, {"s": "Iglidur I180", "d": 78.2, "c": 0.158},
      {"s": "Iglidur I180", "d": 83.6, "c": 0.16}, {"s": "Iglidur I180", "d": 88.6, "c": 0.16}, {"s": "Iglidur I180", "d": 91, "c": 0.163}, {"s": "Iglidur I180", "d": 94.4, "c": 0.159},
      {"s": "Iglidur I180", "d": 96.7, "c": 0.154}, {"s": "Iglidur I180", "d": 99.4, "c": 0.159}, {"s": "Iglidur I180", "d": 105.8, "c": 0.16}, {"s": "Iglidur I180", "d": 113.1, "c": 0.162},
      {"s": "Iglidur I180", "d": 117.1, "c": 0.164}, {"s": "Iglidur I180", "d": 123, "c": 0.163}, {"s": "Iglidur I180", "d": 126.9, "c": 0.165}, {"s": "Iglidur I180", "d": 130.3, "c": 0.164},
      {"s": "Iglidur I180", "d": 132.3, "c": 0.159}, {"s": "Iglidur I180", "d": 137.7, "c": 0.163}, {"s": "Iglidur I180", "d": 145.1, "c": 0.164}, {"s": "Iglidur I180", "d": 150.9, "c": 0.165},
      {"s": "Iglidur I180", "d": 156.3, "c": 0.166}, {"s": "Iglidur I180", "d": 161.2, "c": 0.164}, {"s": "Iglidur I180", "d": 167.1, "c": 0.162}, {"s": "Iglidur I180", "d": 173.5, "c": 0.166},
      {"s": "Iglidur I180", "d": 178.4, "c": 0.166}, {"s": "Iglidur I180", "d": 183.3, "c": 0.166}, {"s": "Iglidur I180", "d": 189.7, "c": 0.167}, {"s": "Iglidur I180", "d": 191.7, "c": 0.164},
      {"s": "Iglidur I180", "d": 196.6, "c": 0.166}, {"s": "Iglidur I180", "d": 198.1, "c": 0.166}, {"s": "Iglidur I180", "d": 200.5, "c": 0.161}, {"s": "Iglidur I180", "d": 201.8, "c": 0.157},
      {"s": "Iglidur I180", "d": 203, "c": 0.16}, {"s": "Iglidur I180", "d": 207.9, "c": 0.164}, {"s": "Iglidur I180", "d": 212.8, "c": 0.163}, {"s": "Iglidur I180", "d": 217.2, "c": 0.16},
      {"s": "Iglidur I180", "d": 221.7, "c": 0.163}, {"s": "Iglidur I180", "d": 226, "c": 0.165}, {"s": "Iglidur I180", "d": 228.9, "c": 0.164}, {"s": "Iglidur I180", "d": 233.9, "c": 0.163},
      {"s": "Iglidur I180", "d": 240.3, "c": 0.166}, {"s": "Iglidur I180", "d": 242.8, "c": 0.163}, {"s": "Iglidur I180", "d": 243.8, "c": 0.157}, {"s": "Iglidur I180", "d": 246.3, "c": 0.159},
      {"s": "Iglidur I180", "d": 253.8, "c": 0.164}, {"s": "Iglidur I180", "d": 260.8, "c": 0.162}, {"s": "Iglidur I180", "d": 266.2, "c": 0.166}, {"s": "Iglidur I180", "d": 273.7, "c": 0.168},
      {"s": "Iglidur I180", "d": 277.7, "c": 0.17}, {"s": "Iglidur I180", "d": 279.2, "c": 0.166}, {"s": "Iglidur I180", "d": 283.7, "c": 0.169}, {"s": "Iglidur I180", "d": 289.6, "c": 0.171},
      {"s": "Iglidur I180", "d": 294.6, "c": 0.173}, {"s": "Iglidur I180", "d": 296.6, "c": 0.172}, {"s": "Iglidur I180", "d": 298.6, "c": 0.168}, {"s": "Iglidur I180", "d": 300, "c": 0.169}
    ]
  },
  "mark": {"type": "line", "strokeWidth": 8, "strokeJoin": "round", "strokeCap": "round"},
  "encoding": {
    "x": {
      "field": "d",
      "type": "quantitative",
      "title": "Distance [m]",
      "scale": {"domain": [0, 300], "nice": false, "zero": false},
      "axis": {
        "values": [0, 7.5, 15, 22.5, 30, 37.5, 45, 52.5, 60, 67.5, 75, 82.5, 90, 97.5, 105, 112.5, 120, 127.5, 135, 142.5, 150, 157.5, 165, 172.5, 180, 187.5, 195, 202.5, 210, 217.5, 225, 232.5, 240, 247.5, 255, 262.5, 270, 277.5, 285, 292.5, 300],
        "labelExpr": "datum.value + ''",
        "labelAngle": 270,
        "labelFont": "Liberation Sans",
        "labelFontSize": 62,
        "labelColor": "#0E2841",
        "labelPadding": 46,
        "labelOverlap": false,
        "labelFlush": false,
        "labelLimit": 1000,
        "ticks": false,
        "tickSize": 0,
        "grid": false,
        "domain": true,
        "domainColor": "#C5DEF2",
        "domainWidth": 24,
        "titleFont": "Liberation Sans",
        "titleFontSize": 66,
        "titleFontWeight": "bold",
        "titleColor": "#0E2841",
        "titleBaseline": "middle",
        "titleY": 272
      }
    },
    "y": {
      "field": "c",
      "type": "quantitative",
      "title": "COF",
      "scale": {"domain": [0, 0.6], "nice": false},
      "axis": {
        "values": [0, 0.1, 0.2, 0.3, 0.4, 0.5, 0.6],
        "labelExpr": "datum.value + ''",
        "labelFont": "Liberation Sans",
        "labelFontSize": 64,
        "labelColor": "#0E2841",
        "labelPadding": 68,
        "ticks": false,
        "tickSize": 0,
        "domain": false,
        "grid": true,
        "gridColor": "#D3E5F5",
        "gridWidth": 2,
        "titleFont": "Liberation Sans",
        "titleFontSize": 66,
        "titleFontWeight": "bold",
        "titleColor": "#0E2841",
        "titleBaseline": "middle",
        "titleX": -219,
        "titleY": 599
      }
    },
    "color": {
      "field": "s",
      "type": "nominal",
      "sort": null,
      "scale": {
        "domain": ["Generic PLA", "PLA CF", "ApolloX Kevlar", "Iglidur I180"],
        "range": ["#156082", "#F47B2F", "#176B22", "#0F9ED5"]
      },
      "legend": {
        "title": null,
        "orient": "none",
        "direction": "horizontal",
        "legendX": 426,
        "legendY": 1484,
        "symbolType": "stroke",
        "symbolStrokeWidth": 9,
        "symbolSize": 4500,
        "labelFont": "Liberation Sans",
        "labelFontSize": 62,
        "labelColor": "#0E2841",
        "labelOffset": 4,
        "labelLimit": 1000,
        "columnPadding": 60
      }
    }
  },
  "config": {
    "view": {"stroke": null}
  }
}
